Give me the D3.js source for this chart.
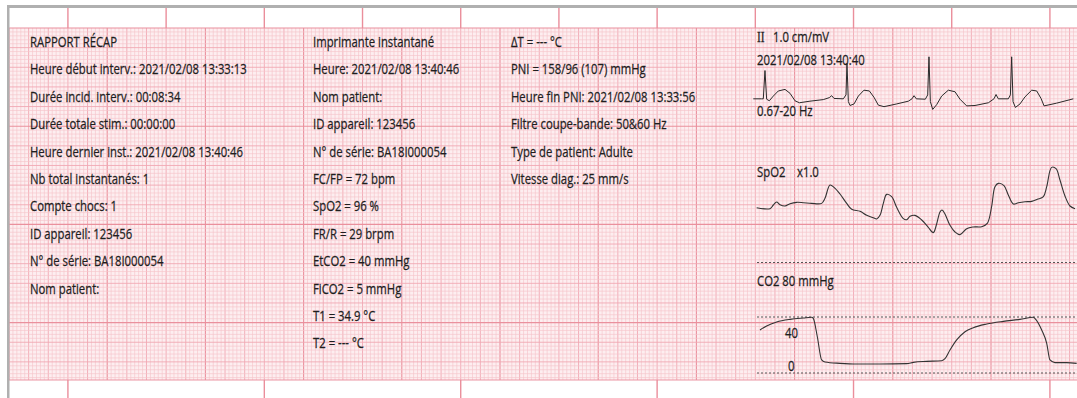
<!DOCTYPE html>
<html><head><meta charset="utf-8">
<script src="https://cdn.jsdelivr.net/npm/d3@7"></script>
<style>html,body{margin:0;padding:0;background:#fff;}svg{display:block;}</style>
</head><body>
<script>
// ---------- data ----------
const col1Lines = ["RAPPORT RÉCAP","Heure début interv.: 2021/02/08 13:33:13","Durée incid. interv.: 00:08:34","Durée totale stim.: 00:00:00","Heure dernier inst.: 2021/02/08 13:40:46","Nb total instantanés: 1","Compte chocs: 1","ID appareil: 123456","N° de série: BA18I000054","Nom patient:"];
const col2Lines = ["Imprimante instantané","Heure: 2021/02/08 13:40:46","Nom patient:","ID appareil: 123456","N° de série: BA18I000054","FC/FP = 72 bpm","SpO2 = 96 %","FR/R = 29 brpm","EtCO2 = 40 mmHg","FiCO2 = 5 mmHg","T1 = 34.9 °C","T2 = --- °C"];
const col3Lines = ["ΔT = --- °C","PNI = 158/96 (107) mmHg","Heure fin PNI: 2021/02/08 13:33:56","Filtre coupe-bande: 50&60 Hz","Type de patient: Adulte","Vitesse diag.: 25 mm/s"];

// ECG lead II (time s, amplitude mV)
const ecgT = [0.003,0.088,0.105,0.122,0.139,0.166,0.207,0.258,0.326,0.377,0.428,0.472,0.580,0.716,0.777,0.801,0.825,0.920,0.947,0.957,0.971,0.988,1.029,1.073,1.130,1.185,1.232,1.276,1.334,1.463,1.582,1.619,1.640,1.663,1.755,1.779,1.792,1.806,1.830,1.870,1.921,1.989,2.057,2.108,2.176,2.261,2.397,2.454,2.475,2.498,2.600,2.621,2.634,2.648,2.672,2.719,2.770,2.838,2.889,2.933,2.964,3.092,3.262];
const ecgV = [0.03,0.03,0.03,0.75,0.02,-0.02,0.10,0.23,0.27,0.17,-0.02,-0.07,-0.03,0.01,0.06,0.11,0.04,0.03,0.13,0.93,-0.04,-0.14,-0.10,0.10,0.25,0.23,0.07,-0.13,-0.17,-0.10,-0.03,0.03,0.11,0.03,0.02,0.13,1.10,-0.04,-0.24,-0.12,0.10,0.25,0.21,0.02,-0.15,-0.14,-0.07,0.03,0.14,0.03,0.03,0.13,1.10,-0.04,-0.19,-0.10,0.08,0.25,0.23,0.04,-0.15,-0.08,0.03];

// SpO2 pleth (time s, deflection mm)
const spoT = [0.037,0.173,0.207,0.241,0.275,0.326,0.377,0.445,0.513,0.597,0.699,0.733,0.784,0.825,0.886,0.954,1.005,1.090,1.158,1.225,1.259,1.293,1.327,1.361,1.412,1.463,1.531,1.565,1.599,1.650,1.718,1.785,1.836,1.870,1.904,1.925,1.955,2.006,2.057,2.108,2.176,2.244,2.329,2.386,2.430,2.464,2.498,2.556,2.600,2.651,2.702,2.770,2.838,2.896,2.957,2.991,3.041,3.086,3.126,3.177,3.228,3.279];
const spoV = [0.59,0.34,1.27,2.03,1.36,1.02,1.61,1.95,1.86,1.69,1.69,2.97,6.36,5.76,4.07,1.69,0.17,-0.34,-1.36,-1.95,-2.29,-1.36,1.69,3.98,3.39,0.68,-2.20,-2.46,-1.61,-1.36,-2.54,-4.41,-5.76,-3.56,-0.51,0.00,-1.02,-3.90,-5.59,-6.27,-4.75,-4.32,-4.24,-3.39,0.85,5.93,6.78,6.19,3.81,1.53,1.86,2.12,2.20,2.71,3.39,5.93,10.85,10.51,7.63,3.56,1.02,0.34];

// CO2 capnogram (time s, mmHg)
const co2T = [0.071,0.139,0.241,0.377,0.513,0.597,0.614,0.655,0.699,0.733,0.886,1.056,1.293,1.565,1.633,1.769,1.921,1.955,2.006,2.074,2.159,2.244,2.380,2.549,2.719,2.855,2.872,2.940,2.991,3.024,3.075,3.194,3.296];
const co2V = [30.7,33.6,36.4,38.3,39.3,39.8,39.0,25.9,9.3,7.9,6.9,6.4,6.4,6.7,7.6,8.3,8.8,10.2,16.4,23.6,29.5,32.4,35.0,36.9,38.3,39.8,38.8,30.7,21.2,9.3,7.4,7.4,6.9];
const co2Ticks = [40, 0];

// ---------- layout ----------
const W = 1077, H = 398;
const pxPerSec = 98.2, pxPerMm = pxPerSec / 25;
const gridTop = 28, gridBot = 380, gridLeft = 9;

const svg = d3.select("body").append("svg").attr("width", W).attr("height", H);
svg.append("rect").attr("width", W).attr("height", H).attr("fill", "#fff");

// grid
const gx = d3.scaleLinear().domain([0, (W - gridLeft) / pxPerMm]).range([gridLeft, W]);
const gy = d3.scaleLinear().domain([0, (gridBot - gridTop) / pxPerMm]).range([gridTop, gridBot]);
const g = svg.append("g");
g.append("rect").attr("x", gridLeft).attr("y", gridTop).attr("width", W - gridLeft).attr("height", gridBot - gridTop).attr("fill", "#fdeef0");
const mmX = d3.range(0, gx.domain()[1] + 0.01, 1);
const mmY = d3.range(0, gy.domain()[1] + 0.01, 1);
const col = m => m % 25 === 0 ? "#ea909d" : (m % 5 === 0 ? "#f1a8b3" : "#f6c4cb");
const sw = m => m % 25 === 0 ? 1.1 : (m % 5 === 0 ? 0.9 : 0.65);
g.selectAll("line.vx").data(mmX).join("line")
  .attr("x1", d => gx(d)).attr("x2", d => gx(d)).attr("y1", gridTop).attr("y2", gridBot)
  .attr("stroke", col).attr("stroke-width", sw);
g.selectAll("line.hy").data(mmY).join("line")
  .attr("y1", d => gy(d)).attr("y2", d => gy(d)).attr("x1", gridLeft).attr("x2", W)
  .attr("stroke", col).attr("stroke-width", sw);
g.append("line").attr("x1", gridLeft).attr("x2", W).attr("y1", gridBot).attr("y2", gridBot).attr("stroke", "#ec96a3").attr("stroke-width", 1.2);

// second marks in margins
const secMarks = d3.range(15, gx.domain()[1], 25);
svg.selectAll("line.top").data(secMarks).join("line")
  .attr("x1", d => gx(d)).attr("x2", d => gx(d)).attr("y1", 8).attr("y2", gridTop)
  .attr("stroke", "#ea8e9b").attr("stroke-width", 1.4);
svg.selectAll("line.bot").data(secMarks.filter((d, i) => i % 2 === 0)).join("line")
  .attr("x1", d => gx(d)).attr("x2", d => gx(d)).attr("y1", gridBot).attr("y2", H)
  .attr("stroke", "#ea8e9b").attr("stroke-width", 1.4);

// scanner border
svg.append("rect").attr("x", 7).attr("y", 5).attr("width", W - 7).attr("height", 3).attr("fill", "#b0b0b0");
svg.append("rect").attr("x", 7).attr("y", 5).attr("width", 2.5).attr("height", H - 5).attr("fill", "#b0b0b0");

// ---------- text ----------
const font = "'Open Sans', 'Noto Sans', sans-serif";
const fs = 14;
const tc = "#1e1e1e";
const lineGap = 27.4, firstBase = 47;
// measure scale
const probe = svg.append("text").attr("font-family", font).attr("font-size", fs).text(col1Lines[1]);
const probeW = probe.node().getComputedTextLength();
probe.remove();
const sx = 217 / probeW;

function styleText(s, fam) {
  return s.attr("font-family", fam || font).attr("font-size", fs).attr("fill", tc)
    .attr("stroke", tc).attr("stroke-width", 0.25);
}
function column(lines, x) {
  const cg = svg.append("g");
  lines.forEach((t, i) => {
    styleText(cg.append("text")
      .attr("transform", `translate(${x},${firstBase + i * lineGap}) scale(${sx},1)`)).text(t);
  });
}
column(col1Lines, 30);
column(col2Lines, 313);
column(col3Lines, 511);

function label(t, x, y, fam) {
  styleText(svg.append("text").attr("transform", `translate(${x},${y}) scale(${sx},1)`), fam).text(t);
}

// ---------- waveforms ----------
const wx = d3.scaleLinear().domain([0, 3.3]).range([753, 753 + 3.3 * pxPerSec]);
const ecgY = d3.scaleLinear().domain([0, 1]).range([100, 100 - 10 * pxPerMm]);     // 1.0 cm/mV
const spoY = d3.scaleLinear().domain([0, 1]).range([210, 210 - pxPerMm]);
const co2Y = d3.scaleLinear().domain([0, 40]).range([373, 317]);

const line = (ys) => d3.line().x(d => wx(d[0])).y(d => ys(d[1])).curve(d3.curveLinear);

// dashed reference lines
svg.append("line").attr("x1", 757).attr("x2", W).attr("y1", 262.5).attr("y2", 262.5)
  .attr("stroke", "#555").attr("stroke-width", 1).attr("stroke-dasharray", "2,2");
svg.selectAll("line.co2ref").data(co2Ticks).join("line")
  .attr("x1", 757).attr("x2", W).attr("y1", d => co2Y(d)).attr("y2", d => co2Y(d))
  .attr("stroke", "#555").attr("stroke-width", 1).attr("stroke-dasharray", "2,2");

svg.append("path").datum(d3.zip(ecgT, ecgV)).attr("d", line(ecgY))
  .attr("fill", "none").attr("stroke", "#2a2a2a").attr("stroke-width", 1).attr("stroke-linejoin", "round");
svg.append("path").datum(d3.zip(spoT, spoV)).attr("d", line(spoY).curve(d3.curveCatmullRom))
  .attr("fill", "none").attr("stroke", "#333").attr("stroke-width", 1.1);
svg.append("path").datum(d3.zip(co2T, co2V)).attr("d", line(co2Y).curve(d3.curveMonotoneX))
  .attr("fill", "none").attr("stroke", "#333").attr("stroke-width", 1.1);

// channel labels
label("II", 757, 42, "'Liberation Serif', serif");
label("1.0 cm/mV", 773, 42);
label("2021/02/08 13:40:40", 757, 65);
label("0.67-20 Hz", 757, 116);
label("SpO2", 757, 177);
label("x1.0", 797, 177);
label("CO2 80 mmHg", 757, 286);
co2Ticks.forEach(d => label(String(d), d === 40 ? 785 : 788, d === 40 ? co2Y(d) + 21 : co2Y(d) - 2));
</script>
</body></html>
